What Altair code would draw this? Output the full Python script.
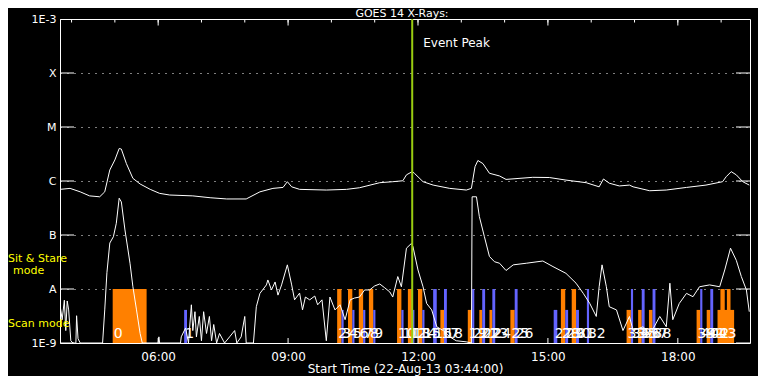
import altair as alt
import pandas as pd

DAY = "2013-08-22T"

# ---- GOES long channel (upper curve) ----
long_time = ["03:44","03:58","04:12","04:25","04:39","04:46","04:53","05:00","05:06","05:09",
             "05:16","05:25","05:35","05:49","06:02","06:16","06:48","07:12","07:35","08:02",
             "08:21","08:39","08:53","08:59","09:05","09:16","09:53","10:21","10:39","11:07",
             "11:25","11:39","11:44","11:52","11:55","12:07","12:21","12:44","13:07","13:14",
             "13:19","13:23","13:30","13:39","13:53","14:02","14:39","15:02","15:25","15:53",
             "16:11","16:17","16:25","16:39","16:53","16:58","17:21","17:44","18:12","18:39",
             "19:02","19:07","19:14","19:21","19:30","19:39"]
long_flux = [7.0e-7,7.3e-7,6.3e-7,5.3e-7,5.1e-7,6.3e-7,1.6e-6,2.45e-6,4.0e-6,3.9e-6,
             2.1e-6,1.12e-6,8.8e-7,7.0e-7,5.9e-7,5.5e-7,5.3e-7,4.9e-7,4.65e-7,4.65e-7,
             6.3e-7,7.3e-7,7.6e-7,9.7e-7,7.8e-7,7.0e-7,6.8e-7,7.0e-7,7.5e-7,9.3e-7,
             9.7e-7,1.01e-6,1.3e-6,1.49e-6,1.39e-6,9.7e-7,8.4e-7,7.3e-7,6.8e-7,7.3e-7,
             1.84e-6,2.4e-6,2.1e-6,1.39e-6,1.24e-6,1.07e-6,1.17e-6,1.16e-6,1.04e-6,9.3e-7,
             7.8e-7,1.09e-6,9.1e-7,8.1e-7,8.4e-7,7.8e-7,6.6e-7,6.8e-7,7.6e-7,8.4e-7,
             9.7e-7,1.2e-6,1.49e-6,1.3e-6,9.7e-7,8.4e-7]

# ---- GOES short channel (lower curve) ----
short_time = ["03:44","03:47","03:50","03:52","03:54","03:56","03:59","04:02","04:06","04:07",
              "04:09","04:12","04:43","04:46","04:49","04:53","04:58","05:02","05:06","05:09",
              "05:14","05:21","05:25","05:30","05:35","05:38","06:00","06:01","06:02","06:31",
              "06:32","06:38","06:42","06:46","06:48","06:51","06:53","06:57","07:00","07:03",
              "07:07","07:11","07:14","07:17","07:21","07:25","07:32","07:39","07:46","07:49",
              "07:55","08:00","08:02","08:12","08:16","08:21","08:30","08:32","08:37","08:42",
              "08:46","08:51","08:59","09:05","09:09","09:16","09:20","09:24","09:30","09:37",
              "09:41","09:47","09:53","09:58","10:05","10:12","10:19","10:26","10:32","10:39",
              "10:46","10:53","11:00","11:07","11:14","11:21","11:25","11:32","11:37","11:44",
              "11:51","11:53","12:00","12:07","12:12","12:19","12:26","12:35","12:44","12:53",
              "13:07","13:14","13:15","13:21","13:25","13:32","13:39","13:46","13:53","14:02",
              "14:12","14:30","14:53","15:07","15:25","15:39","15:49","15:58","16:07","16:11",
              "16:15","16:21","16:25","16:35","16:44","16:53","16:58","17:12","17:21","17:35",
              "17:44","17:49","17:53","18:02","18:12","18:21","18:30","18:44","18:58","19:05",
              "19:13","19:21","19:28","19:35","19:39"]
short_flux = [5.1e-9,2.7e-9,6.2e-9,1.7e-9,6.0e-9,4.1e-9,1.1e-9,1e-9,1e-9,3.2e-9,
              1.2e-9,1e-9,1e-9,4.1e-9,2.0e-8,7.1e-8,9.3e-8,1.65e-7,4.8e-7,4.1e-7,
              1.24e-7,3.0e-8,1.1e-8,4.1e-9,1.5e-9,1e-9,1e-9,1.3e-9,1e-9,1e-9,
              1.3e-9,1.9e-9,1e-9,5.1e-9,1.7e-9,3.8e-9,1.3e-9,3.1e-9,1.1e-9,3.8e-9,
              1.5e-9,3.1e-9,1.1e-9,2.2e-9,1e-9,1.5e-9,1e-9,1.3e-9,1.7e-9,1e-9,
              1.3e-9,3.1e-9,1e-9,1e-9,4.7e-9,8.3e-9,1.19e-8,1.47e-8,9.6e-9,1.35e-8,
              7.7e-9,1.19e-8,2.8e-8,1.19e-8,6.3e-9,8.4e-9,4.1e-9,7.1e-9,6.3e-9,7.4e-9,
              5.1e-9,6.3e-9,1.1e-9,7.1e-9,4.1e-9,5.1e-9,2.7e-9,6.3e-9,6.8e-9,7.1e-9,
              9.6e-9,9.6e-9,1.14e-8,1.24e-8,1.05e-8,8.8e-9,7.1e-9,1.7e-8,1.1e-8,5.7e-8,
              7.0e-8,6.1e-8,2.25e-8,1.1e-8,5.4e-9,4.1e-9,2.0e-9,1.7e-9,1.3e-9,1.1e-9,
              1.05e-9,1e-9,5.1e-7,5.1e-7,2.2e-7,9.3e-8,4.0e-8,3.2e-8,3.0e-8,2.2e-8,
              2.8e-8,3.0e-8,3.3e-8,2.6e-8,1.95e-8,1.28e-8,8.3e-9,5.4e-9,3.1e-9,1.1e-8,
              2.8e-8,1.1e-8,4.7e-9,4.1e-9,1.7e-9,3.1e-9,1.7e-9,2.0e-9,1.4e-9,3.1e-9,
              2.0e-9,1.28e-8,2.7e-9,5.4e-9,8.3e-9,7.2e-9,1.1e-8,1.19e-8,1.1e-8,2.25e-8,
              5.7e-8,3.4e-8,1.7e-8,9.6e-9,3.8e-9]

# ---- observation bars ----
bar_start = ["04:57","06:36","10:08","10:14","10:23","10:29","10:38","10:44","10:52","10:58",
             "11:31","11:37","11:46","11:52","12:00","12:06","12:21","12:31","12:36","13:09",
             "13:15","13:25","13:29","13:39","13:43","14:08","14:14","15:08","15:18","15:24",
             "15:33","15:39","15:54","16:49","16:55","17:05","17:10","17:20","17:25","18:26",
             "18:31","18:40","18:45","18:55","18:59","19:08"]
bar_end = ["05:44","06:40","10:14","10:17","10:29","10:32","10:44","10:47","10:58","11:01",
           "11:37","11:40","11:52","11:55","12:06","12:09","12:26","12:36","12:40","13:14",
           "13:18","13:29","13:33","13:43","13:47","14:14","14:18","15:13","15:24","15:28",
           "15:39","15:43","15:57","16:55","16:58","17:10","17:14","17:25","17:29","18:31",
           "18:34","18:45","18:49","19:18","19:05","19:13"]
bar_kind = ["o","b","o","b","o","b","o","b","o","b",
            "o","b","o","b","o","b","b","o","b","o",
            "b","o","b","o","b","o","b","b","o","b",
            "o","b","b","o","b","o","b","o","b","o",
            "b","o","b","o","o","o"]
# T = reaches level A (upper), S = short bar (lower)
bar_size = ["T","S","T","S","T","S","T","S","T","S",
            "T","S","T","S","T","S","T","S","T","S",
            "T","S","T","S","T","S","T","S","T","S",
            "T","S","T","S","T","S","T","S","T","S",
            "T","S","T","S","T","T"]
bar_label = [str(i) for i in range(44)] + ["", ""]
size_flux = {"T": 1e-8, "S": 4.1e-9}

level_values = [1e-9, 1e-8, 1e-7, 1e-6, 1e-5, 1e-4, 1e-3]
level_labels = ["1E-9", "A", "B", "C", "M", "X", "1E-3"]

hour_ticks = ["%02d:00" % h for h in range(4, 20)]
major_ticks = ["06:00", "09:00", "12:00", "15:00", "18:00"]
start_time, end_time = "03:44", "19:40"
peak_time = "11:52"
title_text = "GOES 14 X-Rays:"

mode_text = ["Sit & Stare", "mode", "Scan mode"]
mode_flux = [3.6e-8, 2.15e-8, 2.25e-9]
mode_dx = [-52, -47, -52]

ORANGE = "#ff8000"
BLUE = "#6464ff"
GREEN = "#99cc11"
FONT = "DejaVu Sans"


def ts(t):
    return DAY + t + ":00"


def dt(t):
    h, m = t.split(":")
    return alt.DateTime(year=2013, month=8, date=22, hours=int(h), minutes=int(m))


xscale = alt.Scale(domain=[dt(start_time), dt(end_time)])
yscale = alt.Scale(type="log", domain=[1e-9, 1e-3])

label_expr = ""
for v, l in zip(level_values, level_labels):
    label_expr += "datum.value <= %g ? '%s' : " % (v * 1.5, l)
label_expr += "''"

xaxis = alt.Axis(values=[dt(t) for t in major_ticks], format="%H:%M",
                 ticks=False, tickSize=0, domain=False, grid=False,
                 labelColor="white", labelFont=FONT, labelFontSize=12, labelPadding=8,
                 title="Start Time (22-Aug-13 03:44:00)", titleColor="white",
                 titleFont=FONT, titleFontSize=12, titleFontWeight="normal",
                 titlePadding=1)
yaxis = alt.Axis(values=level_values, labelExpr=label_expr, ticks=False, tickSize=0,
                 domain=False, grid=True, gridColor="white", gridDash=[1, 6],
                 gridOpacity=1, labelColor="white", labelFont=FONT, labelFontSize=11,
                 labelPadding=4, title=None)


def xenc(field):
    return alt.X(field, scale=xscale, axis=xaxis, title="Start Time (22-Aug-13 03:44:00)")


def yenc(field):
    return alt.Y(field, scale=yscale, axis=yaxis, title=None)


def ydat(v):
    return alt.YDatum(v, scale=yscale, axis=yaxis, title=None)


curves = pd.concat([
    pd.DataFrame({"t": [ts(t) for t in long_time], "flux": long_flux, "ch": "long"}),
    pd.DataFrame({"t": [ts(t) for t in short_time], "flux": short_flux, "ch": "short"}),
])
bars = pd.DataFrame({"t": [ts(t) for t in bar_start], "t2": [ts(t) for t in bar_end],
                     "flux": [size_flux[s] for s in bar_size], "kind": bar_kind,
                     "label": bar_label})
levels = pd.DataFrame({"flux": level_values, "t0": ts(start_time), "t1": ts(end_time)})
hours = pd.DataFrame({"t": [ts(t) for t in hour_ticks]})
majors = pd.DataFrame({"t": [ts(t) for t in major_ticks]})
peak = pd.DataFrame({"t": [ts(peak_time)], "txt": ["Event Peak"]})
modes = pd.DataFrame({"t": ts(start_time), "txt": mode_text, "flux": mode_flux, "dx": mode_dx})
t0 = pd.Timestamp(ts(start_time))
t1 = pd.Timestamp(ts(end_time))
title_df = pd.DataFrame({"t": [(t0 + (t1 - t0) / 2).strftime("%Y-%m-%dT%H:%M:%S")],
                         "txt": [title_text]})

bar_layer = alt.Chart(bars).mark_rect().encode(
    x=xenc("t:T"), x2="t2:T", y=yenc("flux:Q"), y2=alt.datum(1e-9),
    color=alt.Color("kind:N", scale=alt.Scale(domain=["o", "b"], range=[ORANGE, BLUE]),
                    legend=None),
)

line_layer = alt.Chart(curves).mark_line(color="white", strokeWidth=1, clip=True).encode(
    x=xenc("t:T"), y=yenc("flux:Q"), detail="ch:N")

label_layer = alt.Chart(bars).mark_text(color="white", align="left", baseline="alphabetic",
                                        font=FONT, fontSize=14, dx=1, dy=-5).encode(
    x=xenc("t:T"), y=ydat(1e-9), text="label:N")

peak_rule = alt.Chart(peak).mark_rule(color=GREEN, strokeWidth=2).encode(x=xenc("t:T"))
peak_text = alt.Chart(peak).mark_text(color="white", align="left", baseline="middle",
                                      font=FONT, fontSize=12, dx=11).encode(
    x=xenc("t:T"), y=ydat(3.6e-4), text="txt:N")

title_layer = alt.Chart(title_df).mark_text(color="white", align="center",
                                            baseline="alphabetic", font=FONT, fontSize=11,
                                            dx=-3, dy=-2).encode(
    x=xenc("t:T"), y=ydat(1e-3), text="txt:N")

tick_kw = dict(thickness=1, color="white", clip=True, opacity=1)
left_ticks = alt.Chart(levels).mark_tick(orient="horizontal", size=28, **tick_kw).encode(
    x=xenc("t0:T"), y=yenc("flux:Q"))
right_ticks = alt.Chart(levels).mark_tick(orient="horizontal", size=28, **tick_kw).encode(
    x=xenc("t1:T"), y=yenc("flux:Q"))
top_ticks = alt.Chart(hours).mark_tick(orient="vertical", size=7, **tick_kw).encode(
    x=xenc("t:T"), y=ydat(1e-3))
top_major = alt.Chart(majors).mark_tick(orient="vertical", size=13, **tick_kw).encode(
    x=xenc("t:T"), y=ydat(1e-3))
bottom_major = alt.Chart(majors).mark_tick(orient="vertical", size=10, **tick_kw).encode(
    x=xenc("t:T"), y=ydat(1e-9))

mode_layers = []
for i in range(len(mode_text)):
    mode_layers.append(
        alt.Chart(modes.iloc[[i]]).mark_text(color="yellow", align="left", baseline="middle",
                                             font=FONT, fontSize=11, dx=mode_dx[i]).encode(
            x=xenc("t:T"), y=yenc("flux:Q"), text="txt:N"))

chart = alt.layer(
    bar_layer, line_layer, label_layer, peak_rule, peak_text, title_layer,
    left_ticks, right_ticks, top_ticks, top_major, bottom_major, *mode_layers,
).properties(
    width=690, height=324,
    autosize=alt.AutoSizeParams(type="none"),
    padding={"left": 52, "top": 11, "right": 8, "bottom": 33},
).configure(background="black").configure_view(stroke="white", strokeWidth=1)

chart.save("out.html", embed_options={"renderer": "svg", "actions": False})
